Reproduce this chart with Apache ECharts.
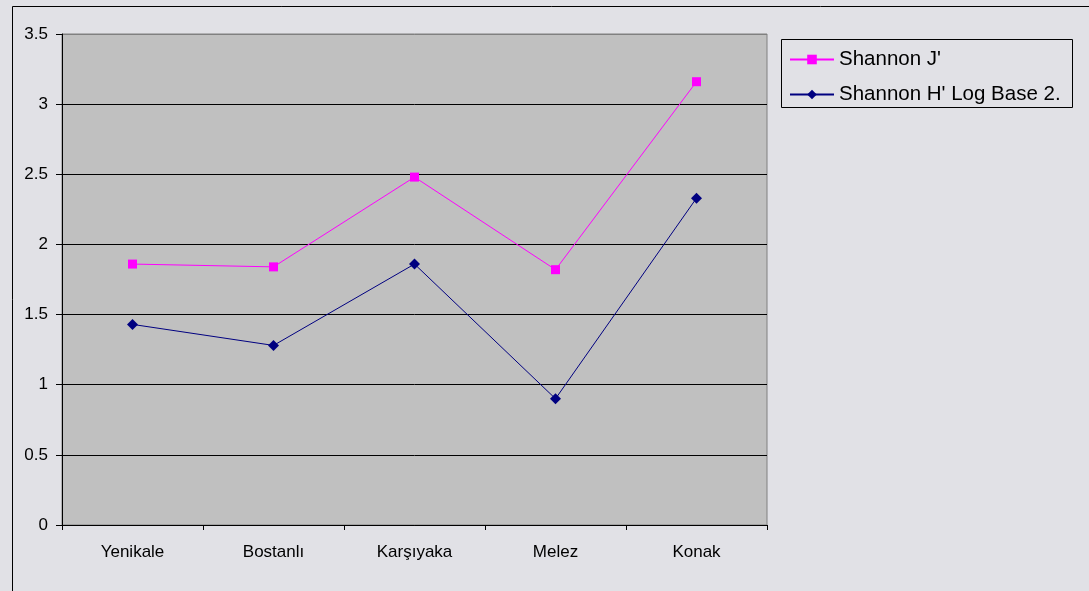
<!DOCTYPE html>
<html>
<head>
<meta charset="utf-8">
<script src="https://cdn.jsdelivr.net/npm/echarts@6/dist/echarts.min.js"></script>
<style>
  html, body { margin: 0; padding: 0; background: #e1e1e6; }
  #chart { width: 1089px; height: 591px; }
</style>
</head>
<body>
<div id="chart"></div>
<script>
// Sampling sites
const sites = ['Yenikale', 'Bostanlı', 'Karşıyaka', 'Melez', 'Konak'];
// Shannon evenness J'
const shannonJ = [1.86, 1.84, 2.48, 1.82, 3.16];
// Shannon diversity H' (log base 2)
const shannonH = [1.43, 1.28, 1.86, 0.90, 2.33];
const seriesNames = ["Shannon J'", "Shannon H' Log Base 2."];

const FONT = '"Liberation Sans", Arial, sans-serif';

const chart = echarts.init(document.getElementById('chart'), null, { renderer: 'canvas' });

chart.setOption({
  backgroundColor: '#e1e1e6',
  animation: false,
  graphic: [
    {
      type: 'rect',
      shape: { x: 12.5, y: 6.5, width: 1100, height: 600 },
      style: { fill: 'none', stroke: '#000', lineWidth: 1 },
      silent: true
    },
    {
      type: 'rect',
      shape: { x: 781.5, y: 39.5, width: 291, height: 68 },
      style: { fill: 'none', stroke: '#000', lineWidth: 1 },
      silent: true
    }
  ],
  legend: {
    orient: 'vertical',
    left: 789,
    top: 49,
    padding: 0,
    itemWidth: 44,
    itemHeight: 12,
    itemGap: 14,
    data: seriesNames,
    textStyle: { fontFamily: FONT, fontSize: 20.5, color: '#000', padding: [0, 0, 0, 0] }
  },
  grid: {
    left: 62, top: 34, right: 322, bottom: 66,
    show: true,
    backgroundColor: '#c0c0c0',
    borderColor: '#808080',
    borderWidth: 1,
    containLabel: false
  },
  xAxis: {
    type: 'category',
    data: sites,
    boundaryGap: true,
    axisLine: { lineStyle: { color: '#000', width: 1 } },
    axisTick: { show: true, length: 5, lineStyle: { color: '#000' } },
    axisLabel: { fontFamily: FONT, fontSize: 17, color: '#000', margin: 19 },
    splitLine: { show: false }
  },
  yAxis: {
    type: 'value',
    min: 0,
    max: 3.5,
    interval: 0.5,
    axisLine: { show: true, lineStyle: { color: '#000', width: 1 } },
    axisTick: { show: true, length: 6, lineStyle: { color: '#000' } },
    axisLabel: { fontFamily: FONT, fontSize: 17, color: '#000', margin: 14 },
    splitLine: {
      show: true,
      lineStyle: {
        color: ['#000', '#000', '#000', '#000', '#000', '#000', '#000', '#808080'],
        width: 1
      }
    }
  },
  series: [
    {
      name: seriesNames[0],
      type: 'line',
      data: shannonJ,
      symbol: 'rect',
      symbolSize: 9,
      lineStyle: { color: '#ff00ff', width: 1 },
      itemStyle: { color: '#ff00ff' }
    },
    {
      name: seriesNames[1],
      type: 'line',
      data: shannonH,
      symbol: 'diamond',
      symbolSize: 11,
      lineStyle: { color: '#000080', width: 1 },
      itemStyle: { color: '#000080' }
    }
  ]
});
</script>
</body>
</html>
